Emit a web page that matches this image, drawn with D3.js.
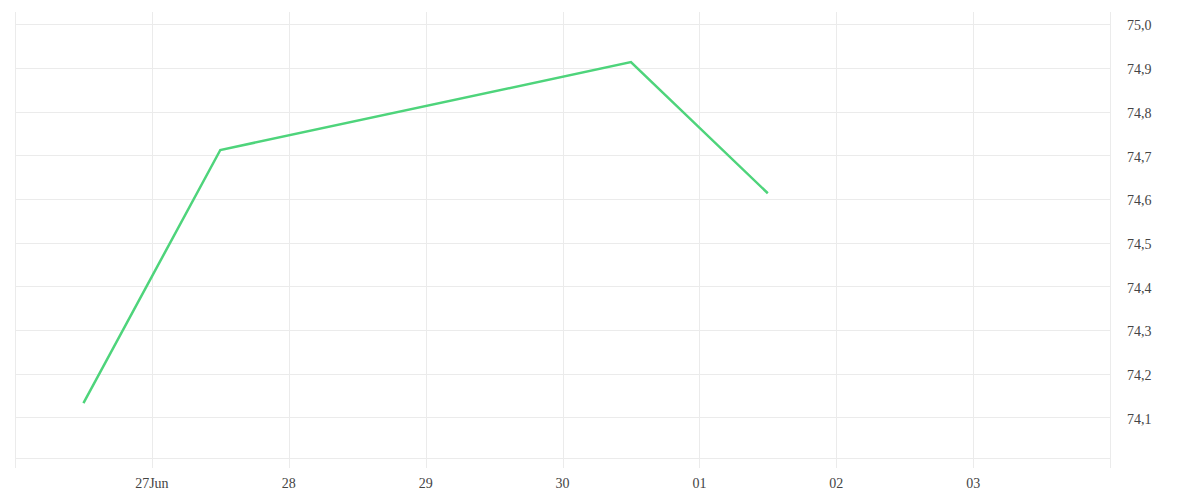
<!DOCTYPE html>
<html><head><meta charset="utf-8">
<script src="https://cdn.jsdelivr.net/npm/d3@7"></script>
<style>body{margin:0;background:#fff}svg{display:block}</style>
</head><body>
<svg id="c" width="1200" height="500"></svg>
<script>
const dates = ["2024-06-26T12:00","2024-06-27T12:00","2024-06-30T12:00","2024-07-01T12:00"];
const values = [74.133, 74.712, 74.913, 74.613];
const yTicks = [74.1,74.2,74.3,74.4,74.5,74.6,74.7,74.8,74.9,75.0];
const xTickDates = ["2024-06-27","2024-06-28","2024-06-29","2024-06-30","2024-07-01","2024-07-02","2024-07-03"];
const xTickLabels = ["27Jun","28","29","30","01","02","03"];

const parse = d3.timeParse("%Y-%m-%dT%H:%M");
const parseD = d3.timeParse("%Y-%m-%d");
const svg = d3.select("#c");
const L=15,R=1110,T=12,B=458;
const x = d3.scaleTime().domain([parseD("2024-06-26"),parseD("2024-07-04")]).range([L,R]);
const y = d3.scaleLinear().domain([74.0073,75.0277]).range([B,T]);
const grid="#ebebeb";
const font="'Liberation Serif', serif";

svg.append("g").selectAll("line").data(yTicks).join("line")
  .attr("x1",L).attr("x2",R).attr("y1",d=>Math.round(y(d))+0.5).attr("y2",d=>Math.round(y(d))+0.5)
  .attr("stroke",grid);
svg.append("line").attr("x1",L).attr("x2",R).attr("y1",B+0.5).attr("y2",B+0.5).attr("stroke",grid);
const vts=[parseD("2024-06-26"),...xTickDates.map(parseD),parseD("2024-07-04")];
svg.append("g").selectAll("line").data(vts).join("line")
  .attr("x1",d=>Math.round(x(d))+0.5).attr("x2",d=>Math.round(x(d))+0.5)
  .attr("y1",T).attr("y2",B+10).attr("stroke",grid);

svg.append("g").selectAll("text").data(yTicks).join("text")
  .attr("x",1127).attr("y",d=>y(d)).attr("dy","0.45em")
  .attr("font-family",font).attr("font-size",14).attr("fill","#444")
  .text(d=>d3.format(".1f")(d).replace(".",","));
svg.append("g").selectAll("text").data(xTickDates).join("text")
  .attr("x",d=>x(parseD(d))).attr("y",488).attr("text-anchor","middle")
  .attr("font-family",font).attr("font-size",14).attr("fill","#444")
  .text((d,i)=>xTickLabels[i]);

const line=d3.line().x((d,i)=>x(parse(dates[i]))).y(d=>y(d));
svg.append("path").datum(values).attr("d",line).attr("fill","none")
  .attr("stroke","#4ed47b").attr("stroke-width",2.5).attr("stroke-linejoin","miter");
</script>
</body></html>
